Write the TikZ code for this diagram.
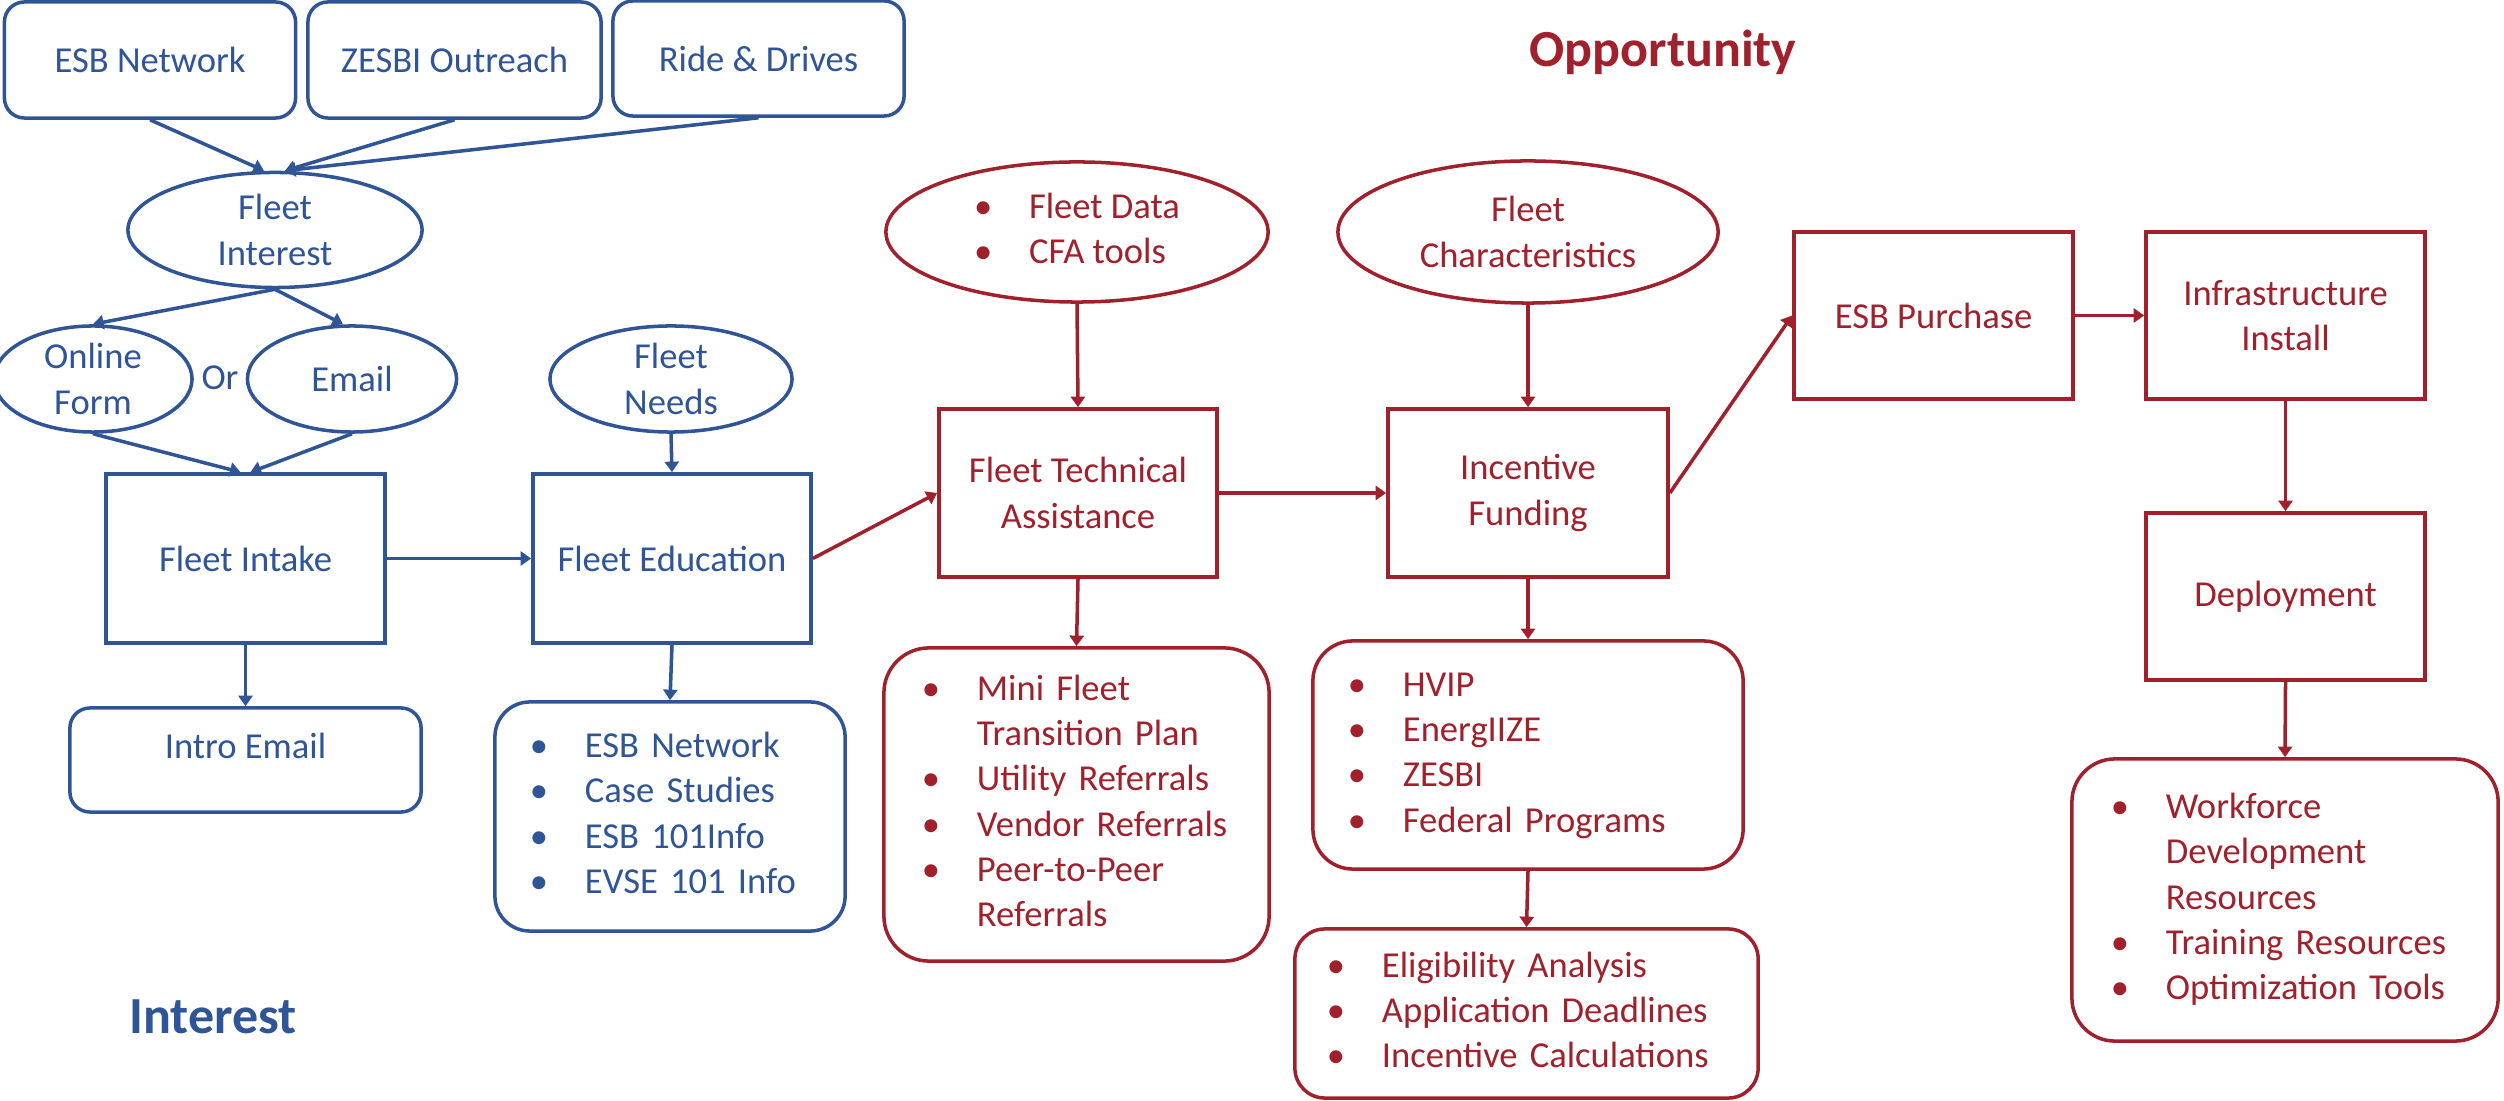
\documentclass[tikz,border=0pt]{standalone}
\usepackage{fontspec}
\setmainfont{Carlito}
\usetikzlibrary{arrows.meta,shapes.geometric}
\definecolor{intblue}{HTML}{2F5597}
\definecolor{oppred}{HTML}{A0202C}
\newcommand{\itm}{\makebox[0.55cm][l]{\textbullet}}
\newcommand{\gap}{\hspace*{0.55cm}}
\newcommand{\blist}[2]{\begin{tabular}{@{\hspace{#1}}l@{}}#2\end{tabular}}

\begin{document}
\begin{tikzpicture}[x=0.01cm,y=-0.01cm,
	every node/.style={font=\fontsize{10.4}{12.9}\selectfont, align=center, inner sep=0pt},
	blu/.style={draw=intblue, text=intblue, line width=1pt},
	rd/.style={draw=oppred, text=oppred, line width=1pt},
	oval/.style={ellipse},
	arr/.style={-{Triangle[length=3pt,width=4pt]}, line width=1pt},
	title/.style={font=\fontsize{14.8}{18}\selectfont\bfseries, anchor=base}]
	\useasboundingbox (0,0) rectangle (2504,1101);
	\node[blu, rounded corners=0.2cm, minimum width=2.91cm, minimum height=1.16cm] (esb) at (150,60) {ESB Network};
	\node[blu, rounded corners=0.2cm, minimum width=2.93cm, minimum height=1.16cm] (zesbi) at (454.5,60) {ZESBI Outreach};
	\node[blu, rounded corners=0.2cm, minimum width=2.91cm, minimum height=1.15cm] (ride) at (758.5,58.5) {Ride \& Drives};
	\node[blu, oval, minimum width=2.94cm, minimum height=1.15cm] (interest) at (275,230) {Fleet\\Interest};
	\node[blu, oval, minimum width=1.98cm, minimum height=1.06cm] (online) at (93,379) {Online\\Form};
	\node[text=intblue] (or) at (220,378) {Or};
	\node[blu, oval, minimum width=2.09cm, minimum height=1.06cm] (email) at (352,379) {Email};
	\node[blu, oval, minimum width=2.42cm, minimum height=1.06cm] (needs) at (671,379) {Fleet\\Needs};
	\node[blu, minimum width=2.79cm, minimum height=1.69cm] (intake) at (245.5,558.5) {Fleet Intake};
	\node[blu, minimum width=2.78cm, minimum height=1.69cm] (education) at (672,558.5) {Fleet Education};
	\node[blu, rounded corners=0.2cm, minimum width=3.51cm, minimum height=1.04cm, text depth=8pt] (intro) at (245.5,760) {Intro Email};
	\node[blu, rounded corners=0.35cm, minimum width=3.5cm, minimum height=2.29cm, text width=3.5cm, align=left] (esblist) at (670,816.5)
		{\blist{0.35cm}{\itm ESB Network\\ \itm Case Studies\\ \itm ESB 101Info\\ \itm EVSE 101 Info}};
	\node[title, text=intblue] (interesttitle) at (213,1033) {Interest};

	\node[title, text=oppred] (opptitle) at (1663,67) {Opportunity};
	\node[rd, oval, minimum width=3.82cm, minimum height=1.4cm] (data) at (1077,232) {\blist{0pt}{\itm Fleet Data\\ \itm CFA tools}};
	\node[rd, oval, minimum width=3.8cm, minimum height=1.42cm] (chars) at (1528,232) {Fleet\\Characteristics};
	\node[rd, minimum width=2.78cm, minimum height=1.68cm] (tech) at (1078,493) {Fleet Technical\\Assistance};
	\node[rd, minimum width=2.8cm, minimum height=1.68cm] (funding) at (1528,493) {Incentive\\Funding};
	\node[rd, minimum width=2.79cm, minimum height=1.67cm] (purchase) at (1933.5,315.5) {ESB Purchase};
	\node[rd, minimum width=2.79cm, minimum height=1.67cm] (infra) at (2285.5,315.5) {Infrastructure\\Install};
	\node[rd, minimum width=2.79cm, minimum height=1.67cm] (deploy) at (2285.5,596.5) {Deployment};
	\node[rd, rounded corners=0.45cm, minimum width=3.85cm, minimum height=3.13cm, text width=3.85cm, align=left] (mini) at (1076.5,804.5)
		{\blist{0.38cm}{\itm Mini Fleet\\ \gap Transition Plan\\ \itm Utility Referrals\\ \itm Vendor Referrals\\ \itm Peer-to-Peer\\ \gap Referrals}};
	\node[rd, rounded corners=0.4cm, minimum width=4.3cm, minimum height=2.28cm, text width=4.3cm, align=left] (hvip) at (1528,755)
		{\blist{0.35cm}{\itm HVIP\\ \itm EnergIIZE\\ \itm ZESBI\\ \itm Federal Programs}};
	\node[rd, rounded corners=0.3cm, minimum width=4.63cm, minimum height=1.69cm, text width=4.63cm, align=left] (elig) at (1526.5,1013.5)
		{\blist{0.32cm}{\itm Eligibility Analysis\\ \itm Application Deadlines\\ \itm Incentive Calculations}};
	\node[rd, rounded corners=0.43cm, minimum width=4.26cm, minimum height=2.82cm, text width=4.26cm, align=left] (workforce) at (2285,900)
		{\blist{0.39cm}{\itm Workforce\\ \gap Development\\ \gap Resources\\ \itm Training Resources\\ \itm Optimization Tools}};

	\draw[arr, intblue] (esb.south) -- ([xshift=-0.11cm]interest.north);
	\draw[arr, intblue] (zesbi.south) -- ([xshift=0.1cm]interest.north);
	\draw[arr, intblue] (ride.south) -- ([xshift=0.1cm]interest.north);
	\draw[arr, intblue] (interest.south) -- (online.north);
	\draw[arr, intblue] (interest.south) -- ([xshift=-0.09cm]email.north);
	\draw[arr, intblue] (online.south) -- ([xshift=-0.05cm]intake.north);
	\draw[arr, intblue] (email.south) -- ([xshift=0.05cm]intake.north);
	\draw[arr, intblue] (needs.south) -- (education.north);
	\draw[arr, intblue] (intake.east) -- (education.west);
	\draw[arr, intblue] (intake.south) -- (intro.north);
	\draw[arr, intblue] (education.south) -- (esblist.north);

	\draw[arr, oppred] (education.east) -- (tech.west);
	\draw[arr, oppred] (data.south) -- (tech.north);
	\draw[arr, oppred] (chars.south) -- (funding.north);
	\draw[arr, oppred] (tech.east) -- (funding.west);
	\draw[arr, oppred] (tech.south) -- (mini.north);
	\draw[arr, oppred] (funding.south) -- (hvip.north);
	\draw[arr, oppred] (hvip.south) -- (elig.north);
	\draw[arr, oppred] (funding.east) -- (purchase.west);
	\draw[arr, oppred] (purchase.east) -- (infra.west);
	\draw[arr, oppred] (infra.south) -- (deploy.north);
	\draw[arr, oppred] (deploy.south) -- (workforce.north);
\end{tikzpicture}
\end{document}
